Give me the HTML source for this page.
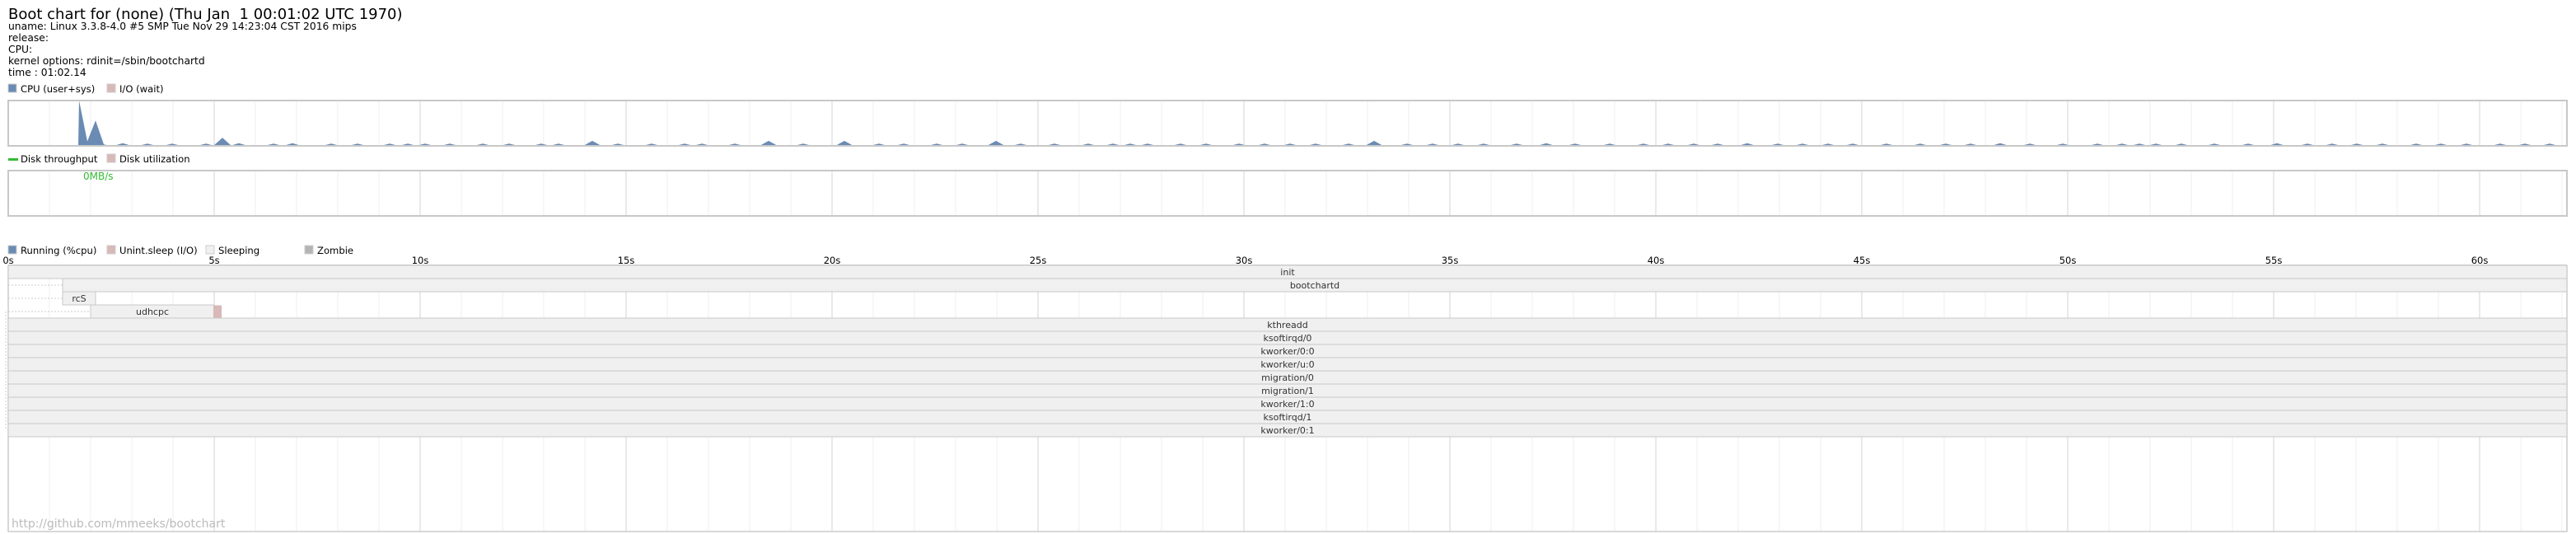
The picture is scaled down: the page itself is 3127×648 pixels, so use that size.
<!DOCTYPE html>
<html><head><meta charset="utf-8"><style>
html,body{margin:0;padding:0;background:#fff;}
svg{display:block;font-family:"DejaVu Sans","Liberation Sans",sans-serif;}
</style></head><body>
<svg id="chart" width="3127" height="648" viewBox="0 0 3127 648" xmlns="http://www.w3.org/2000/svg">
<text x="10" y="23" font-size="18" fill="#000" style="white-space:pre" xml:space="preserve">Boot chart for (none) (Thu Jan  1 00:01:02 UTC 1970)</text>
<g font-size="12.3" fill="#000">
<text x="10" y="36">uname: Linux 3.3.8-4.0 #5 SMP Tue Nov 29 14:23:04 CST 2016 mips</text>
<text x="10" y="50">release:</text>
<text x="10" y="64">CPU:</text>
<text x="10" y="78">kernel options: rdinit=/sbin/bootchartd</text>
<text x="10" y="92">time : 01:02.14</text>
</g>
<g font-size="11.6">
<rect x="10" y="102" width="10" height="10" fill="#6a8bb3" stroke="#ccc"/>
<text x="25" y="112">CPU (user+sys)</text>
<rect x="130" y="102" width="10" height="10" fill="#d9b8b8" stroke="#ccc"/>
<text x="145" y="112">I/O (wait)</text>
</g>
<g font-size="11.6">
<rect x="10" y="192" width="12" height="3" fill="#33bb33"/>
<text x="25" y="197">Disk throughput</text>
<rect x="130" y="187" width="10" height="10" fill="#d9b8b8" stroke="#ccc"/>
<text x="145" y="197">Disk utilization</text>
</g>
<g font-size="11.6">
<rect x="10" y="298" width="10" height="10" fill="#6a8bb3" stroke="#ccc"/>
<text x="25" y="308">Running (%cpu)</text>
<rect x="130" y="298" width="10" height="10" fill="#d9b8b8" stroke="#ccc"/>
<text x="145" y="308">Unint.sleep (I/O)</text>
<rect x="250" y="298" width="10" height="10" fill="#f0f0f0" stroke="#ccc"/>
<text x="265" y="308">Sleeping</text>
<rect x="370" y="298" width="10" height="10" fill="#b4b4b4" stroke="#ccc"/>
<text x="385" y="308">Zombie</text>
</g>
<g id="dyn"></g>
<text x="14" y="640" font-size="14" fill="#bbb">http://github.com/mmeeks/bootchart</text>
</svg>
<script>
const endTime = 62.12;
const cpuEarlyTimes = [1.70, 1.72, 1.92, 2.12, 2.32, 2.5];
const cpuEarlyValues = [0, 1.0, 0.1, 0.56, 0.03, 0];
const bumpTimes = [2.78,3.38,3.98,4.8,5.2,5.6,6.44,6.9,7.84,8.48,9.26,9.7,10.12,10.72,11.52,12.16,12.94,13.36,14.18,14.8,15.62,16.42,16.84,17.64,18.46,19.3,20.3,21.14,21.74,22.54,23.16,23.98,24.58,25.4,26.22,26.82,27.24,27.66,28.46,29.08,29.88,30.5,31.12,31.74,32.54,33.16,33.96,34.58,35.2,35.82,36.62,37.34,38.04,38.88,39.7,40.3,40.92,41.5,42.22,42.96,43.56,44.18,44.78,45.6,46.42,47.04,47.64,48.36,49.08,49.88,50.72,51.32,51.74,52.14,52.76,53.56,54.38,55.08,55.82,56.42,57.02,57.64,58.46,59.06,59.68,60.5,61.1,61.7];
const bumpValues = [0.06,0.05,0.05,0.05,0.18,0.06,0.05,0.06,0.05,0.05,0.05,0.05,0.05,0.05,0.05,0.05,0.05,0.05,0.11,0.05,0.05,0.05,0.05,0.05,0.11,0.05,0.11,0.05,0.05,0.05,0.05,0.11,0.05,0.05,0.05,0.05,0.05,0.05,0.05,0.05,0.05,0.05,0.05,0.05,0.05,0.11,0.05,0.05,0.05,0.05,0.05,0.06,0.05,0.05,0.05,0.05,0.05,0.05,0.06,0.05,0.05,0.05,0.05,0.05,0.05,0.05,0.05,0.06,0.05,0.05,0.05,0.05,0.05,0.05,0.05,0.05,0.05,0.06,0.05,0.05,0.05,0.05,0.05,0.05,0.05,0.05,0.05,0.05];
const diskStart = 1.72;
const diskLabel = "0MB/s";
const procNames = ["init","bootchartd","rcS","udhcpc","kthreadd","ksoftirqd/0","kworker/0:0","kworker/u:0","migration/0","migration/1","kworker/1:0","ksoftirqd/1","kworker/0:1"];
const procStart = [0,1.32,1.32,2.0,0,0,0,0,0,0,0,0,0];
const procEnd = [62.12,62.12,2.12,5.0,62.12,62.12,62.12,62.12,62.12,62.12,62.12,62.12,62.12];
const procIoStart = [null,null,null,4.98,null,null,null,null,null,null,null,null,null];
const procIoEnd = [null,null,null,5.18,null,null,null,null,null,null,null,null,null];
const tickLabels = ["0s","5s","10s","15s","20s","25s","30s","35s","40s","45s","50s","55s","60s"];

const NS="http://www.w3.org/2000/svg";
const X0=10, PX=50;
const xs = t => X0 + t*PX;
const g=document.getElementById('dyn');
function mk(tag, attrs, parent){const e=document.createElementNS(NS,tag);for(const k in attrs)e.setAttribute(k,attrs[k]);(parent||g).appendChild(e);return e;}
const right = xs(endTime);

function grid(y0,y1,parent){
  for(let s=1;s<=Math.floor(endTime);s++){
    const l=mk('line',{x1:xs(s),x2:xs(s),y1:y0,y2:y1,stroke:(s%5==0)?'#e2e2e2':'#efefef','stroke-width':(s%5==0)?1.5:1},parent);
    
    
  }
}
const cpuTop=122,cpuBot=177;
const ycpu = v => cpuBot - v*(cpuBot-cpuTop);
const cg=mk('g',{});


grid(cpuTop,cpuBot,cg);
let pts=[];
for(let i=0;i<cpuEarlyTimes.length;i++)pts.push([cpuEarlyTimes[i],cpuEarlyValues[i]]);
for(let i=0;i<bumpTimes.length;i++){pts.push([bumpTimes[i]-0.22,0]);pts.push([bumpTimes[i],bumpValues[i]]);pts.push([bumpTimes[i]+0.22,0]);}
let d='M'+xs(pts[0][0])+','+cpuBot;
pts.forEach(p=>{d+=' L'+xs(p[0]).toFixed(1)+','+ycpu(p[1]).toFixed(1);});
d+=' L'+xs(pts[pts.length-1][0])+','+cpuBot+' Z';
const area=mk('path',{d:d,fill:'#6a8bb3'},cg);


const cb=mk('rect',{x:X0,y:cpuTop,width:right-X0,height:cpuBot-cpuTop,fill:'none',stroke:'#c8c8c8','stroke-width':2},cg);


const dTop=207,dBot=262;
const dg=mk('g',{});


grid(dTop,dBot,dg);
const dl=mk('line',{x1:xs(diskStart),x2:right,y1:dBot,y2:dBot,stroke:'#a8c8a0','stroke-width':2},dg);


const db=mk('rect',{x:X0,y:dTop,width:right-X0,height:dBot-dTop,fill:'none',stroke:'#c8c8c8','stroke-width':2},dg);


const dt=mk('text',{x:xs(diskStart)+5,y:dTop+11,'font-size':12,fill:'#33bb33'},dg);
dt.textContent=diskLabel;


const pTop=322,pBot=645,RH=16;
const pg=mk('g',{});


grid(pTop,pBot,pg);
tickLabels.forEach((lab,i)=>{
  const t=mk('text',{x:xs(i*5),y:pTop-2,'font-size':11.5,'text-anchor':'middle',fill:'#000'},pg);
  t.textContent=lab;
  
  
});
const pf=mk('line',{x1:X0,x2:right,y1:pTop,y2:pTop,stroke:'#ccc','stroke-width':2},pg);


const pf2=mk('polyline',{points:`${X0},${pTop} ${X0},${pBot} ${right},${pBot} ${right},${pTop}`,fill:'none',stroke:'#ccc','stroke-width':1.5},pg);


const vd=mk('line',{x1:7,x2:7,y1:pTop+4*RH-8,y2:pTop+13*RH-8,stroke:'#ccc','stroke-dasharray':'2,2'},pg);


procNames.forEach((name,i)=>{
  const y=pTop+i*RH;
  const row=mk('g',{},pg);
  
  
  if(procStart[i]>0){
    const c=mk('line',{x1:X0,x2:xs(procStart[i]),y1:y+RH/2,y2:y+RH/2,stroke:'#ccc','stroke-dasharray':'2,2'},row);
    
    
  }
  const r=mk('rect',{x:xs(procStart[i]),y:y,width:xs(procEnd[i])-xs(procStart[i]),height:RH,fill:'#f0f0f0',stroke:'#c8c8c8','stroke-width':1},row);
  
  
  if(procIoStart[i]!==null){
    const io=mk('rect',{x:xs(procIoStart[i]),y:y+0.5,width:xs(procIoEnd[i])-xs(procIoStart[i]),height:RH-1,fill:'#d9b8b8'},row);
    
    
  }
  const t=mk('text',{x:(xs(procStart[i])+xs(procEnd[i]))/2,y:y+12,'font-size':11,'text-anchor':'middle',fill:'#333'},row);
  t.textContent=name;
  
  
});
</script>
</body></html>
